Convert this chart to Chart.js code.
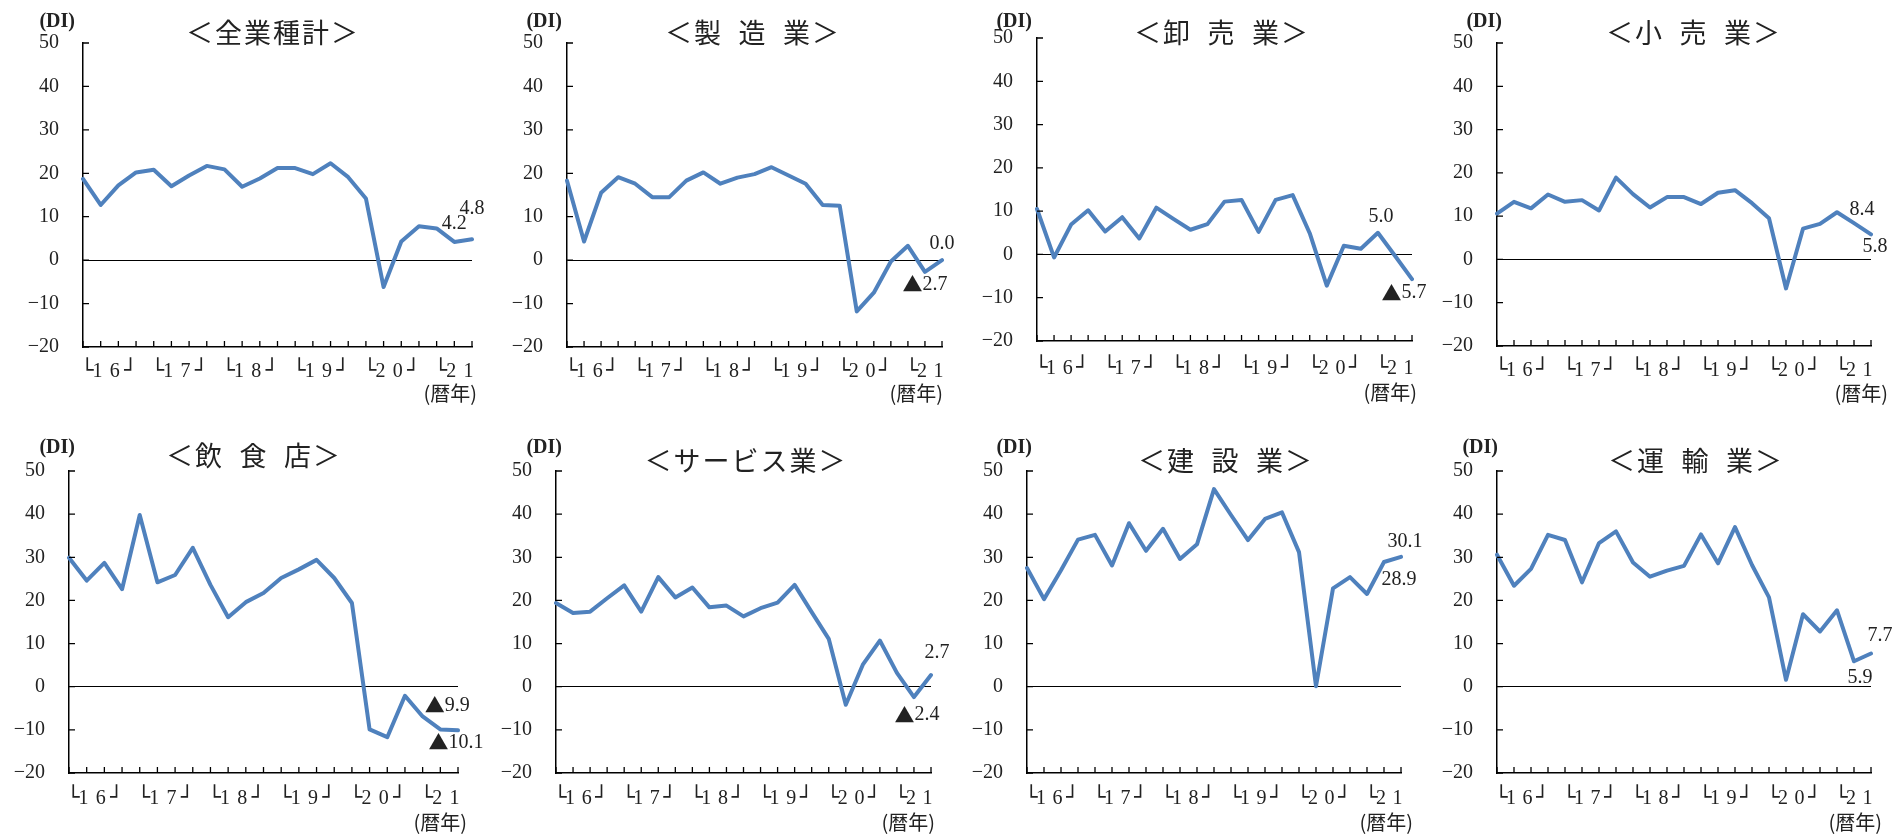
<!DOCTYPE html>
<html><head><meta charset="utf-8">
<script src="https://cdn.jsdelivr.net/npm/chart.js@4"></script>
<style>
html,body{margin:0;padding:0;background:#fff;width:1895px;height:834px;overflow:hidden;position:relative}
canvas{position:absolute}
</style></head><body>
<script>
// ---- data ----
const quarters = ['2016Q1','2016Q2','2016Q3','2016Q4','2017Q1','2017Q2','2017Q3','2017Q4','2018Q1','2018Q2','2018Q3','2018Q4','2019Q1','2019Q2','2019Q3','2019Q4','2020Q1','2020Q2','2020Q3','2020Q4','2021Q1','2021Q2','2021Q3'];
const yearLabels = ['└1 6┘','└1 7┘','└1 8┘','└1 9┘','└2 0┘','└2 1'];
const yearStartIdx = [0,4,8,12,16,20];
const yMin = -20, yMax = 50, yStep = 10;
const titles = ['＜全業種計＞','＜製\u2002造\u2002業＞','＜卸\u2002売\u2002業＞','＜小\u2002売\u2002業＞','＜飲\u2002食\u2002店＞','＜サービス業＞','＜建\u2002設\u2002業＞','＜運\u2002輸\u2002業＞'];
const allIndustries = [18.7,12.7,17.2,20.2,20.8,17.0,19.5,21.7,20.9,16.9,18.8,21.2,21.2,19.8,22.3,19.1,14.2,-6.2,4.3,7.8,7.3,4.2,4.8];
const manufacturing = [18.3,4.3,15.5,19.1,17.6,14.5,14.5,18.3,20.2,17.6,19.0,19.8,21.4,19.5,17.6,12.7,12.5,-11.8,-7.5,-0.3,3.3,-2.7,0.0];
const wholesale = [10.5,-0.7,6.9,10.2,5.3,8.6,3.7,10.8,8.2,5.7,7.0,12.2,12.6,5.2,12.6,13.7,4.9,-7.2,2.0,1.3,5.0,-0.3,-5.7];
const retail = [10.6,13.3,11.8,15.0,13.3,13.7,11.3,18.9,15.1,12.0,14.4,14.4,12.8,15.4,16.0,13.0,9.5,-6.7,7.1,8.2,10.9,8.4,5.8];
const restaurants = [29.9,24.6,28.7,22.6,39.8,24.2,25.9,32.2,23.6,16.1,19.6,21.7,25.2,27.2,29.4,25.2,19.4,-9.9,-11.7,-2.1,-6.9,-9.9,-10.1];
const services = [19.4,17.1,17.4,20.5,23.5,17.4,25.4,20.7,23.0,18.4,18.8,16.3,18.2,19.5,23.6,17.3,11.1,-4.2,5.1,10.7,3.2,-2.4,2.7];
const construction = [27.5,20.3,27.0,34.1,35.2,28.1,37.9,31.5,36.6,29.6,33.0,45.8,39.8,34.0,38.9,40.4,31.2,0.1,22.8,25.4,21.5,28.9,30.1];
const transport = [30.6,23.4,27.3,35.2,34.0,24.2,33.3,36.0,28.8,25.5,26.9,28.0,35.3,28.6,37.0,28.2,20.7,1.6,16.8,12.8,17.7,5.9,7.7];
const seriesList = [allIndustries, manufacturing, wholesale, retail, restaurants, services, construction, transport];
const labelledIdx = [[21,22],[22,21],[20,22],[21,22],[21,22],[22,21],[22,21],[22,21]];

// ---- layout (positions / styles) ----
const layout = [
  {L:83,R:472,T:43,B:347, title:[273,33], di:[75,22], yr:23, reki:[477,393], lab:[[0,-18],[0,-31]]},
  {L:567,R:942,T:43,B:347, title:[753,33], di:[562,22], yr:23, reki:[943,393], lab:[[0,-16],[0,13]]},
  {L:1037,R:1412,T:38,B:341, title:[1222,33], di:[1032,22], yr:26, reki:[1417,392], lab:[[3,-16],[-8,14]]},
  {L:1497,R:1871,T:43,B:346, title:[1694,33], di:[1502,22], yr:23, reki:[1888,393], lab:[[8,-13],[4,12]]},
  {L:69,R:458,T:471,B:773, title:[254,456], di:[75,448], yr:24, reki:[467,822], lab:[[7,-24],[-2,12]]},
  {L:556,R:931,T:471,B:773, title:[746,461], di:[562,448], yr:24, reki:[935,822], lab:[[6,-22],[3,18]]},
  {L:1027,R:1401,T:471,B:773, title:[1226,461], di:[1032,448], yr:24, reki:[1413,822], lab:[[4,-15],[15,18]]},
  {L:1497,R:1871,T:471,B:773, title:[1696,461], di:[1498,448], yr:24, reki:[1882,822], lab:[[9,-18],[6,16]]}
];
const PADL = 80, PADT = 45, PADR = 50, PADB = 70;
const SERIF = '"Liberation Serif", "DejaVu Serif", serif';
const CJK = '"Noto Sans CJK JP", sans-serif';
const BOX = '"DejaVu Sans", sans-serif';
const TXT = '#222';

function drawValue(ctx, v, cx, cy) {
  const num = Math.abs(v).toFixed(1);
  ctx.textBaseline = 'middle';
  ctx.textAlign = 'left';
  ctx.font = '20px ' + SERIF;
  const wn = ctx.measureText(num).width;
  if (v < 0) {
    ctx.font = '20px ' + CJK;
    const wt = ctx.measureText('▲').width;
    const x0 = cx - (wt + wn) / 2;
    ctx.fillText('▲', x0, cy);
    ctx.font = '20px ' + SERIF;
    ctx.fillText(num, x0 + wt, cy);
  } else {
    ctx.fillText(num, cx - wn / 2, cy);
  }
}

const decor = {
  id: 'decor',
  afterDraw(chart, args, o) {
    const ctx = chart.ctx, lay = o.lay, ox = o.ox, oy = o.oy;
    const xs = chart.scales.x, ys = chart.scales.y, ca = chart.chartArea;
    ctx.save();
    // inward tick marks
    ctx.strokeStyle = '#000'; ctx.lineWidth = 1.3;
    ctx.beginPath();
    for (let i = 0; i < quarters.length; i++) {
      const x = xs.getPixelForValue(i);
      ctx.moveTo(x, ca.bottom); ctx.lineTo(x, ca.bottom - 6);
    }
    for (let v = yMin; v <= yMax; v += yStep) {
      const y = ys.getPixelForValue(v);
      ctx.moveTo(ca.left, y); ctx.lineTo(ca.left + 6, y);
    }
    ctx.stroke();
    ctx.fillStyle = TXT;
    ctx.textBaseline = 'middle';
    // title
    ctx.font = '27px ' + CJK;
    ctx.textAlign = 'center';
    try { ctx.letterSpacing = '2px'; } catch(e) {}
    ctx.fillText(titles[o.k], lay.title[0] - ox, lay.title[1] - oy);
    try { ctx.letterSpacing = '0px'; } catch(e) {}
    // (DI)
    ctx.font = 'bold 20px ' + SERIF;
    ctx.textAlign = 'right';
    ctx.fillText('(DI)', lay.di[0] - ox, lay.di[1] - oy);
    // year labels (bracket, two digits, optional closing bracket)
    const d = xs.getPixelForValue(1) - xs.getPixelForValue(0);
    const base = ca.bottom + lay.yr + 7;
    ctx.textBaseline = 'alphabetic';
    yearLabels.forEach((t, j) => {
      const x0 = xs.getPixelForValue(yearStartIdx[j]);
      const chars = t.replace(/ /g, '').split('');
      ctx.font = '21px ' + BOX;
      ctx.textAlign = 'left';
      ctx.fillText(chars[0], x0 - 0.12 * d, base);
      ctx.font = '20px ' + SERIF;
      ctx.textAlign = 'center';
      ctx.fillText(chars[1], x0 + 0.82 * d, base);
      ctx.fillText(chars[2], x0 + 1.8 * d, base);
      if (chars[3]) {
        ctx.font = '21px ' + BOX;
        ctx.textAlign = 'right';
        ctx.fillText(chars[3], x0 + 3.05 * d, base);
      }
    });
    ctx.textBaseline = 'middle';
    // (暦年)
    ctx.font = '20px ' + CJK;
    ctx.textAlign = 'right';
    ctx.fillText('(暦年)', lay.reki[0] - ox, lay.reki[1] - oy);
    // value labels
    const data = seriesList[o.k];
    labelledIdx[o.k].forEach((i, j) => {
      const x = xs.getPixelForValue(i) + lay.lab[j][0];
      const y = ys.getPixelForValue(data[i]) + lay.lab[j][1];
      drawValue(ctx, data[i], x, y);
    });
    ctx.restore();
  }
};

layout.forEach((lay, k) => {
  const cv = document.createElement('canvas');
  const left = lay.L - PADL, top = lay.T - PADT;
  const w = lay.R - lay.L + PADL + PADR, h = lay.B - lay.T + PADT + PADB;
  cv.width = w; cv.height = h;
  cv.style.left = left + 'px'; cv.style.top = top + 'px';
  cv.style.width = w + 'px'; cv.style.height = h + 'px';
  document.body.appendChild(cv);
  new Chart(cv, {
    type: 'line',
    data: { labels: quarters, datasets: [{
      data: seriesList[k], borderColor: '#4F81BD', borderWidth: 4,
      pointRadius: 0, tension: 0, fill: false, borderJoinStyle: 'round', borderCapStyle: 'round'
    }]},
    options: {
      responsive: false, animation: false, devicePixelRatio: 1,
      layout: { padding: { top: PADT, right: PADR, left: 0, bottom: 0 } },
      plugins: { legend: { display: false }, tooltip: { enabled: false }, title: { display: false },
        decor: { lay: lay, k: k, ox: left, oy: top } },
      scales: {
        x: {
          type: 'category', offset: false,
          grid: { display: true, color: 'rgba(0,0,0,0)', drawTicks: false },
          border: { display: true, color: '#000', width: 1.5 },
          ticks: { display: false },
          afterFit(s) { s.height = PADB; }
        },
        y: {
          min: yMin, max: yMax,
          ticks: { stepSize: yStep, padding: 24, color: TXT, font: { family: SERIF, size: 20 },
            callback: v => v < 0 ? '−' + Math.abs(v) : String(v) },
          grid: { color: c => (c.tick && c.tick.value === 0) ? '#000' : 'rgba(0,0,0,0)', lineWidth: 1, drawTicks: false },
          border: { display: true, color: '#000', width: 1.5 },
          afterFit(s) { s.width = PADL; }
        }
      }
    },
    plugins: [decor]
  });
});
</script>
</body></html>
